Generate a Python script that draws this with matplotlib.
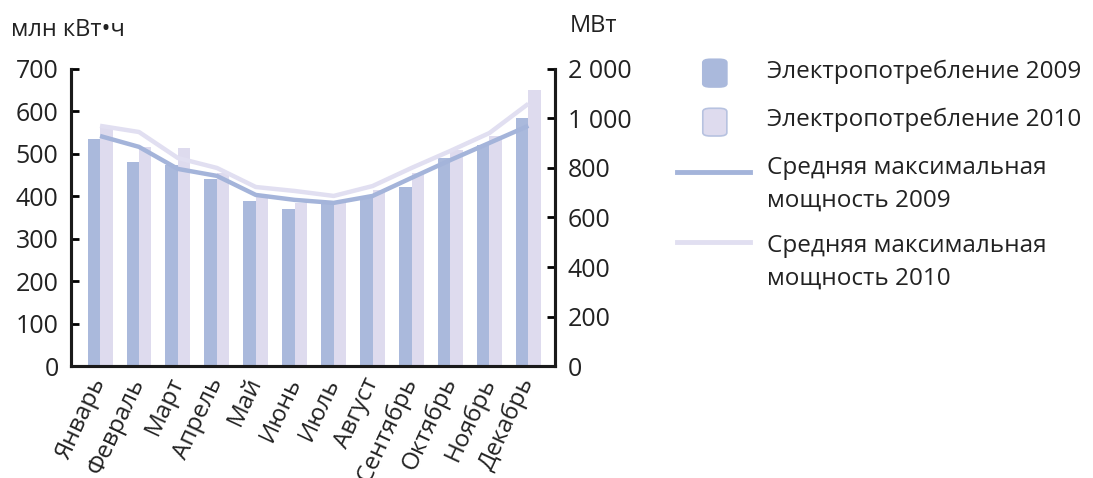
import numpy as np
import matplotlib.pyplot as plt
from matplotlib.patches import FancyBboxPatch
from matplotlib.lines import Line2D

plt.rcParams['font.family'] = ['Open Sans', 'DejaVu Sans']

months = ['Январь', 'Февраль', 'Март', 'Апрель', 'Май', 'Июнь', 'Июль',
          'Август', 'Сентябрь', 'Октябрь', 'Ноябрь', 'Декабрь']
# электропотребление, млн кВт*ч
cons_2009 = [535, 481, 474, 441, 389, 370, 385, 400, 422, 490, 521, 584]
cons_2010 = [563, 516, 514, 455, 400, 384, 390, 415, 455, 509, 542, 650]
# средняя максимальная мощность, МВт
pow_2009 = [929, 885, 796, 768, 691, 671, 659, 687, 760, 832, 901, 970]
pow_2010 = [970, 945, 840, 800, 723, 707, 687, 727, 800, 869, 941, 1059]

left_ticks = [0, 100, 200, 300, 400, 500, 600, 700]
right_ticks = [0, 200, 400, 600, 800, 1000, 1200]
right_labels = ['0', '200', '400', '600', '800', '1 000', '2 000']

c09 = '#aab9dc'
c10 = '#dedbee'
l09 = '#a4b4da'
l10 = '#e1dff1'
tc = '#222222'

fig = plt.figure(figsize=(10.93, 4.78), dpi=100)
ax = fig.add_axes([0.065, 0.234, 0.443, 0.622])
x = np.arange(len(months))
w = 0.32
ax.bar(x - w / 2, cons_2009, w, color=c09, zorder=2)
ax.bar(x + w / 2, cons_2010, w, color=c10, zorder=2)
ax.set_ylim(0, 700)
ax.set_xlim(-0.745, 11.69)
ax.set_yticks(left_ticks)
ax.set_xticks(x)
ax.set_xticklabels(months, rotation=65, ha='right', va='center',
                   rotation_mode='anchor', fontsize=17.5, color=tc)
ax.tick_params(axis='x', length=0, pad=9)
ax.tick_params(axis='y', direction='in', length=6, width=2, labelsize=18,
               pad=9, labelcolor=tc)

ax2 = ax.twinx()
ax2.plot(x, pow_2010, color=l10, lw=3.2, zorder=3, solid_capstyle='butt')
ax2.plot(x, pow_2009, color=l09, lw=3.2, zorder=4, solid_capstyle='butt')
ax2.set_ylim(0, 1200)
ax2.set_yticks(right_ticks)
ax2.set_yticklabels(right_labels)
ax2.tick_params(axis='y', direction='in', length=6, width=2, labelsize=18,
                pad=9, labelcolor=tc)

for a in (ax, ax2):
    a.spines['top'].set_visible(False)
    for s in ('left', 'right', 'bottom'):
        a.spines[s].set_linewidth(2.2)
        a.spines[s].set_color('#1a1a1a')

fig.text(0.01, 0.937, 'млн кВт•ч', fontsize=17, color=tc, va='center')
fig.text(0.521, 0.946, 'МВт', fontsize=17, color=tc, va='center')

# legend
def box(y, face, edge):
    p = FancyBboxPatch((0.643, y), 0.022, 0.058,
                       boxstyle='round,pad=0,rounding_size=0.007',
                       transform=fig.transFigure, facecolor=face,
                       edgecolor=edge, lw=1.2)
    fig.patches.append(p)

box(1 - 87 / 478, c09, c09)
box(1 - 136 / 478, c10, '#b7c2e0')
fig.lines.append(Line2D([0.619, 0.686], [1 - 172 / 478] * 2, color=l09, lw=3.5,
                        transform=fig.transFigure))
fig.lines.append(Line2D([0.619, 0.686], [1 - 242 / 478] * 2, color=l10, lw=3.5,
                        transform=fig.transFigure))
tx = 0.702
rows = [(72, 'Электропотребление 2009'), (120, 'Электропотребление 2010'),
        (168, 'Средняя максимальная'), (201, 'мощность 2009'),
        (246, 'Средняя максимальная'), (279, 'мощность 2010')]
for yy, t in rows:
    fig.text(tx, 1 - yy / 478, t, fontsize=17.5, va='center', color=tc)

fig.savefig('out.png', dpi=100)
